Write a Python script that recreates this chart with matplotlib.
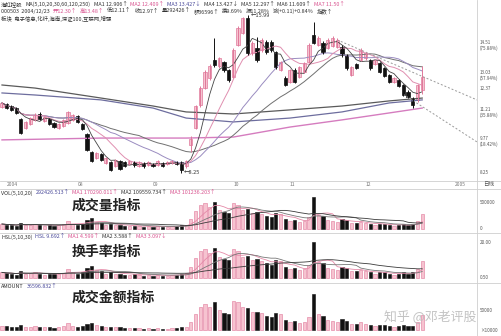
import numpy as np
import pandas as pd
import matplotlib
matplotlib.use('Agg')
import matplotlib.pyplot as plt

plt.rcParams['font.family'] = ['Noto Sans CJK SC', 'DejaVu Sans']

# daily bars, 2004-07 .. 2004-12-23
opens = [11.48, 11.63, 11.53, 11.43, 10.89, 10.45, 10.65, 10.85, 11.14, 10.80,
         10.89, 10.70, 10.45, 10.55, 10.70, 10.85, 11.04, 10.65, 10.16, 9.28,
         8.98, 9.18, 8.74, 8.79, 8.59, 8.84, 8.79, 8.69, 8.79, 8.59,
         8.74, 8.64, 8.69, 8.64, 8.74, 8.69, 8.74, 8.79, 8.79, 8.59,
         9.60, 10.45, 11.58, 12.41, 12.90, 13.79, 13.49, 13.69, 13.30, 12.95,
         14.52, 15.11, 15.84, 14.13, 14.37, 14.28, 14.67, 14.67, 14.18, 13.30,
         12.90, 12.71, 13.30, 12.95, 13.20, 13.69, 15.01, 14.52, 14.62, 14.37,
         14.47, 14.42, 14.42, 14.03, 13.05, 13.59, 13.79, 13.88, 13.79, 13.59,
         13.64, 13.39, 13.05, 12.71, 12.81, 12.56, 12.22, 11.92, 11.83, 12.30]
closes = [11.68, 11.43, 11.34, 11.19, 10.21, 10.75, 10.94, 11.09, 10.89, 10.99,
          10.65, 10.50, 10.65, 10.85, 11.24, 11.09, 10.75, 10.40, 9.38, 8.84,
          9.23, 8.89, 8.98, 8.40, 8.89, 8.44, 8.59, 8.84, 8.64, 8.79,
          8.59, 8.79, 8.59, 8.84, 8.59, 8.79, 8.84, 8.69, 8.40, 8.84,
          9.90, 11.53, 12.41, 13.20, 13.49, 13.54, 13.88, 13.30, 12.81, 14.28,
          15.35, 15.84, 14.13, 14.62, 13.79, 14.77, 14.18, 14.28, 13.44, 13.69,
          12.56, 13.30, 12.71, 13.44, 13.64, 14.52, 14.62, 14.86, 14.18, 14.77,
          14.86, 14.77, 14.03, 13.39, 13.44, 13.39, 14.28, 14.13, 13.39, 13.79,
          13.20, 13.00, 12.71, 12.90, 12.51, 12.07, 11.97, 11.58, 12.56, 12.97]
highs = [11.75, 11.70, 11.58, 11.48, 10.95, 10.80, 11.00, 11.20, 11.24, 11.04,
         10.95, 10.75, 10.70, 10.90, 11.30, 11.15, 11.10, 10.70, 10.20, 9.35,
         9.28, 9.25, 9.05, 8.84, 8.95, 8.89, 8.84, 8.90, 8.84, 8.84,
         8.79, 8.84, 8.74, 8.89, 8.79, 8.84, 8.89, 8.84, 8.84, 8.89,
         10.05, 11.60, 12.50, 13.30, 13.60, 14.86, 13.95, 13.75, 13.35, 14.35,
         15.45, 15.90, 15.99, 14.70, 14.90, 14.85, 14.75, 14.75, 14.25, 13.75,
         13.00, 13.35, 13.40, 13.50, 13.70, 14.60, 15.64, 14.95, 14.70, 14.85,
         14.95, 14.85, 14.50, 14.10, 13.50, 13.65, 14.35, 14.20, 13.85, 13.85,
         13.70, 13.45, 13.10, 12.95, 12.85, 12.60, 12.30, 11.97, 12.60, 13.48]
lows = [11.43, 11.38, 11.30, 11.14, 10.15, 10.40, 10.60, 10.80, 10.85, 10.75,
        10.60, 10.45, 10.40, 10.50, 10.65, 10.80, 10.70, 10.36, 9.33, 8.80,
        8.93, 8.84, 8.70, 8.35, 8.55, 8.40, 8.55, 8.65, 8.55, 8.55,
        8.50, 8.60, 8.55, 8.60, 8.55, 8.64, 8.69, 8.64, 8.25, 8.50,
        9.30, 10.40, 11.50, 12.35, 12.80, 13.45, 13.40, 13.20, 12.70, 12.90,
        14.45, 15.05, 14.05, 14.05, 13.70, 14.20, 14.10, 14.20, 13.35, 13.25,
        12.50, 12.65, 12.65, 12.90, 13.15, 13.65, 14.55, 14.45, 14.10, 14.30,
        14.40, 14.35, 13.95, 13.30, 13.00, 13.35, 13.75, 13.80, 13.30, 13.55,
        13.15, 12.95, 12.65, 12.65, 12.45, 12.00, 11.90, 11.43, 11.75, 12.11]

# volume in thousand lots
volume = [96, 79, 75, 58, 115, 77, 80, 96, 77, 58,
          77, 60, 77, 94, 154, 96, 77, 98, 173, 211,
          134, 115, 77, 96, 77, 75, 58, 56, 60, 58,
          38, 58, 40, 58, 38, 40, 58, 56, 77, 79,
          192, 346, 461, 499, 422, 518, 365, 326, 307, 499,
          461, 365, 384, 307, 326, 288, 250, 230, 307, 288,
          192, 154, 173, 134, 154, 230, 614, 269, 250, 173,
          154, 134, 192, 173, 115, 115, 134, 115, 96, 77,
          96, 96, 77, 58, 77, 96, 77, 96, 154, 292]
# turnover rate, %
turnover = [3.2, 2.6, 2.5, 1.9, 3.8, 2.5, 2.6, 3.2, 2.5, 1.9,
            2.5, 2.0, 2.5, 3.1, 5.1, 3.2, 2.5, 3.2, 5.7, 7.0,
            4.4, 3.8, 2.5, 3.2, 2.5, 2.5, 1.9, 1.9, 2.0, 1.9,
            1.3, 1.9, 1.3, 1.9, 1.3, 1.3, 1.9, 1.9, 2.5, 2.6,
            6.4, 11.5, 15.3, 16.5, 14.0, 17.2, 12.1, 10.8, 10.2, 16.5,
            15.3, 12.1, 12.7, 10.2, 10.8, 9.5, 8.3, 7.6, 10.2, 9.5,
            6.4, 5.1, 5.7, 4.4, 5.1, 7.6, 20.3, 8.9, 8.3, 5.7,
            5.1, 4.4, 6.4, 5.7, 3.8, 3.8, 4.4, 3.8, 3.2, 2.5,
            3.2, 3.2, 2.5, 1.9, 2.5, 3.2, 2.5, 3.2, 5.1, 9.69]
# amount, 10k yuan
amount = [11200, 8800, 8730, 6490, 11740, 8280, 8420, 10650, 8390, 6370,
          8200, 6090, 8200, 10420, 17310, 10650, 8280, 9980, 16230, 18650,
          12370, 10220, 6910, 8060, 6850, 6500, 4980, 5130, 5010, 5100,
          3260, 5100, 3260, 5130, 3260, 3340, 5130, 5040, 6470, 6810,
          19010, 39890, 57210, 65870, 56930, 70140, 50660, 43360, 39330, 71260,
          70760, 57820, 54260, 44880, 44960, 42540, 35450, 32840, 41260, 39430,
          24120, 20480, 21990, 18010, 21010, 33400, 89770, 39970, 35450, 25550,
          22880, 19790, 26940, 23160, 15460, 15400, 19140, 16250, 12850, 10620,
          12670, 12480, 9790, 7480, 9630, 11590, 9220, 11120, 19340, 36596]

# long moving averages (index, value)
long_idx = [0, 7, 21, 32, 39, 49, 61, 72, 82, 89]
ma120 = [12.56, 12.41, 11.92, 11.53, 11.24, 11.14, 11.34, 11.53, 11.78, 11.92]
ma250 = [12.17, 12.07, 11.83, 11.43, 10.94, 10.75, 10.94, 11.24, 11.68, 11.83]
mag_idx = [0, 21, 39, 49, 61, 72, 82, 89]
ma_mag = [9.87, 9.96, 9.96, 10.01, 10.50, 10.85, 11.19, 11.43]

# hand-drawn trend lines
trend_upper = ([71, 100.6], [14.77, 11.83])
trend_lower = ([85, 100.6], [12.10, 9.77])

date_pos = [1, 16, 32, 49, 61, 77, 96]
date_txt = ['2004', '08', '09', '10', '11', '12', '2005']

price_ticks = [14.51, 13.03, 12.37, 11.21, 9.77, 8.25]
price_pct = ['(75.88%)', '(57.94%)', '', '(35.88%)', '(18.42%)', '']

W, H = 501, 336
fig = plt.figure(figsize=(W / 100, H / 100), dpi=100)
fig.patch.set_facecolor('white')
renderer = fig.canvas.get_renderer()


def box(top, bottom, left=0, right=477):
    return [left / W, 1 - bottom / H, (right - left) / W, (bottom - top) / H]


def clean(a, ylim):
    a.set_xlim(-0.42, 100.6)
    a.set_ylim(*ylim)
    a.set_xticks([])
    a.set_yticks([])
    for s in a.spines.values():
        s.set_visible(False)
    a.patch.set_alpha(0)


UP_FACE, UP_EDGE, DOWN = '#f6c3d0', '#e0789a', '#111111'

n = len(closes)
idx = np.arange(n)
o, c, h, l = map(np.array, (opens, closes, highs, lows))
up = c >= o

ax = fig.add_axes(box(0, 181))
clean(ax, (7.856, 16.725))

# moving averages
cs = pd.Series(closes)
ax.plot(long_idx, ma120, color='#5a5a5a', lw=0.9)
ax.plot(long_idx, ma250, color='#6d6d9e', lw=0.9)
ax.plot(mag_idx, ma_mag, color='#d57cbf', lw=1.0)
ax.plot(idx, cs.rolling(30, min_periods=1).mean(), color='#707070', lw=0.7)
ax.plot(idx, cs.rolling(20, min_periods=1).mean(), color='#9a8cc0', lw=0.7)
ax.plot(idx, cs.rolling(10, min_periods=1).mean(), color='#e08fb0', lw=0.7)
ax.plot(idx, cs.rolling(5, min_periods=1).mean(), color='#444444', lw=0.6)

for xs, ys in (trend_upper, trend_lower):
    ax.plot(xs, ys, color='#9a9a9a', lw=0.7, ls=(0, (2, 2)))

# candles
ax.vlines(idx[up], l[up], h[up], color=UP_EDGE, lw=0.7)
ax.vlines(idx[~up], l[~up], h[~up], color=DOWN, lw=0.7)
ax.bar(idx[up], np.maximum(c - o, 0.03)[up], bottom=o[up], width=0.68,
       color=UP_FACE, edgecolor=UP_EDGE, lw=0.5)
ax.bar(idx[~up], np.maximum(o - c, 0.03)[~up], bottom=c[~up], width=0.68,
       color=DOWN, edgecolor=DOWN, lw=0.5)

hi = int(np.argmax(h))
lo = int(np.argmin(l))
ax.text(hi + 0.6, h[hi], '←15.99', fontsize=4.0, color='#333333', va='center')
ax.text(lo + 0.6, l[lo], '←8.25', fontsize=4.0, color='#333333', va='center')

for p, pct in zip(price_ticks, price_pct):
    lab = f'{p:.2f}' + ('\n' + pct if pct else '')
    ax.text(1.006, p, lab, transform=ax.get_yaxis_transform(), fontsize=3.3,
            color='#555555', va='center', ha='left', linespacing=1.1)

# date strip
axd = fig.add_axes(box(181, 189))
clean(axd, (0, 1))
for p, t in zip(date_pos, date_txt):
    axd.text(p, 0.5, t, fontsize=3.6, color='#777777', va='center', ha='left')
fig.text(483 / W, 1 - 185 / H, '日线', fontsize=4.0, color='#555555', va='center')

vcol = [UP_FACE if u else DOWN for u in up]
vedge = [UP_EDGE if u else DOWN for u in up]


def sub_panel(top, bottom, base, unit, vals, periods, ticks):
    a = fig.add_axes(box(top, bottom))
    clean(a, (-(bottom - base) * unit, (base - top) * unit))
    a.bar(idx, vals, width=0.68, color=vcol, edgecolor=vedge, lw=0.4)
    s = pd.Series(vals, dtype=float)
    for per, col in zip(periods, ['#e58aa8', '#777777', '#3a3a3a']):
        a.plot(idx, s.rolling(per, min_periods=1).mean(), color=col, lw=0.6)
    for v, t in ticks:
        a.text(1.006, v, t, transform=a.get_yaxis_transform(), fontsize=3.3,
               color='#555555', va='center', ha='left')
    return a


sub_panel(189, 233, 229, 19.2, volume, (5, 10, 20), [(500, '500000'), (0, '0')])
sub_panel(233, 283, 278, 0.571, turnover, (5, 10, 30), [(20, '20.00'), (0.5, '0.50')])
sub_panel(283, 336, 330, 2500, amount, (), [(50000, '50000'), (-2000, '×10000')])

# separators
for y in (181, 189, 233, 283):
    fig.add_artist(plt.Line2D([0, 1], [1 - y / H] * 2, color='#cfcfcf', lw=0.6))
fig.add_artist(plt.Line2D([477 / W] * 2, [0, 1], color='#cfcfcf', lw=0.6))


def line(y, segs, fs=3.9, gap=3.0):
    # segments set one after another, measured so they never run into each other
    x = 1.0
    for s, col in segs:
        t = fig.text(x / W, 1 - y / H, s, fontsize=fs, color=col, va='center', ha='left')
        x += t.get_window_extent(renderer).width + gap


BLK, PNK, BLU = '#333333', '#d9538f', '#4a4a9a'
line(4, [('海虹控股', BLK), ('MA(5,10,20,30,60,120,250)', BLK),
         ('MA1 12.906↑', BLK), ('MA2 12.409↑', PNK), ('MA3 13.427↓', BLU),
         ('MA4 13.427↓', BLK), ('MA5 12.297↑', BLK), ('MA6 11.609↑', BLK),
         ('MA7 11.50↑', PNK)])
line(11, [('000503  2004/12/23', BLK), ('开12.30↑', PNK), ('高13.48↑', PNK),
          ('低12.11↑', BLK), ('收12.97↑', BLK), ('量292426↑', BLK),
          ('额36596↑', BLK), ('换9.69%', BLK), ('振11.28%', BLK),
          ('涨(+0.11)+0.84%', BLK), ('指数↑', BLK)])
line(19, [('板块  电子信息,化纤,海南,深证100,互联网,增强', BLK)])

line(193, [('VOL(5,10,20)', BLK), ('292426.513↑', BLU), ('MA1 170290.011↑', PNK),
           ('MA2 109559.734↑', BLK), ('MA3 101236.203↑', PNK)])
line(237, [('HSL(5,10,30)', BLK), ('HSL 9.692↑', BLU), ('MA1 4.599↑', PNK),
           ('MA2 3.588↑', BLK), ('MA3 3.097↓', PNK)])
line(287, [('AMOUNT', BLK), ('36596.832↑', BLU)])

for y, t in ((206, '成交量指标'), (252, '换手率指标'), (298, '成交金额指标')):
    fig.text(72 / W, 1 - y / H, t, fontsize=10, fontweight='bold', color='#222222',
             va='center', ha='left')

fig.text(384 / W, 1 - 316 / H, '知乎 @邓老评股', fontsize=9.3, color='#bdbdbd',
         va='center', ha='left', alpha=0.9)

fig.savefig('out.png', dpi=100, facecolor='white')
